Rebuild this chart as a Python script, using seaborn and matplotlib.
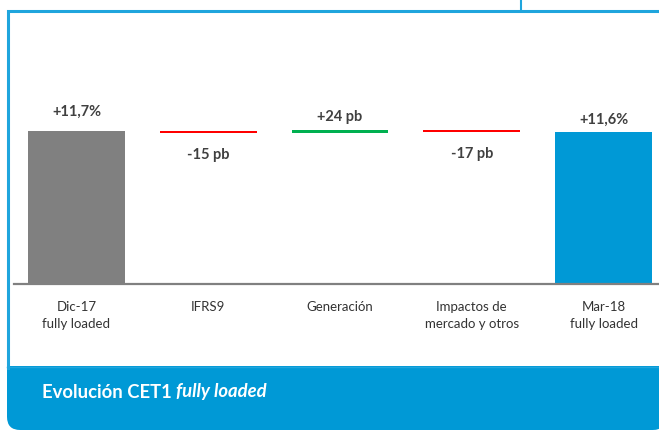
import numpy as np
import pandas as pd
import matplotlib
matplotlib.use("Agg")
import matplotlib.pyplot as plt
from matplotlib.patches import FancyBboxPatch, Rectangle
from matplotlib.lines import Line2D
import seaborn as sns

# --- datos ---
categorias = ["Dic-17\nfully loaded", "IFRS9", "Generación",
              "Impactos de\nmercado y otros", "Mar-18\nfully loaded"]
inicio = 11.70          # CET1 Dic-17 (%)
variaciones = [-0.15, 0.24, -0.17]   # en puntos porcentuales (pb / 100)
final = 11.62           # CET1 Mar-18 (%)
etiquetas = ["+11,7%", "-15 pb", "+24 pb", "-17 pb", "+11,6%"]

colores = ["#808080", "#ff0000", "#00b050", "#ff0000", "#0099d6"]
TEXTO = "#404040"
MARCO = "#1fa5dd"

plt.rcParams["font.family"] = ["Lato", "DejaVu Sans"]

W, H = 659, 432
fig = plt.figure(figsize=(W / 100, H / 100), dpi=100)
fig.patch.set_facecolor("white")

# ejes en coordenadas de píxel
x0, x1 = 14, 659
y_base, y_top = 284, 60
ax = fig.add_axes([x0 / W, (H - y_base) / H, (x1 - x0) / W, (y_base - y_top) / H])

df = pd.DataFrame({
    "categoria": categorias,
    "valor": [inicio, 0, 0, 0, final],
})
ancho = 0.736
sns.barplot(data=df, x="categoria", y="valor", hue="categoria",
            palette=colores, order=categorias, width=ancho,
            legend=False, ax=ax, saturation=1)

# tramos flotantes de la cascada
acum = inicio
niveles = []
for i, d in enumerate(variaciones, start=1):
    bottom = acum if d >= 0 else acum + d
    ax.bar(i, abs(d), bottom=bottom, width=ancho, color=colores[i], linewidth=0)
    niveles.append((acum, acum + d))
    acum += d

ax.set_xlim(-0.474, 4.421)
ax.set_ylim(0, 17.13)

# etiquetas de valor (desplazamiento vertical en puntos)
arriba = [(0, inicio, 8.5), (2, max(niveles[1]), 4.5), (4, final, 3.5)]
abajo = [(1, min(niveles[0]), -10.5), (3, min(niveles[2]), -10.5)]
for i, v, off in arriba:
    ax.annotate(etiquetas[i], (i, v), xytext=(0, off), textcoords="offset points",
                ha="center", va="bottom", fontsize=10.5, fontweight="bold", color=TEXTO)
for i, v, off in abajo:
    ax.annotate(etiquetas[i], (i, v), xytext=(0, off), textcoords="offset points",
                ha="center", va="top", fontsize=10.5, fontweight="bold", color=TEXTO)

ax.set_xlabel("")
ax.set_ylabel("")
ax.set_yticks([])
ax.tick_params(axis="x", length=0, pad=12, labelsize=9.5, labelcolor="#333333")
for lbl in ax.get_xticklabels():
    lbl.set_linespacing(1.55)
for s in ["top", "right", "left"]:
    ax.spines[s].set_visible(False)
ax.spines["bottom"].set_color("#808080")
ax.spines["bottom"].set_linewidth(1.6)
ax.set_facecolor("none")

# marco
def px(x, y):
    return x / W, (H - y) / H

fx, fy = zip(px(8, 368), px(8, 11), px(W, 11))
fig.add_artist(Line2D(fx, fy, color=MARCO, lw=2.2, solid_joinstyle="miter"))
fx, fy = zip(px(521, 0), px(521, 11))
fig.add_artist(Line2D(fx, fy, color=MARCO, lw=1.5))

# banda inferior (solo la esquina inferior izquierda redondeada)
AZUL = "#0099d6"
bx, by = px(7, 430)
banda = FancyBboxPatch((bx, by), 1.0, (430 - 366) / H,
                       boxstyle="round,pad=0,rounding_size=0.02",
                       transform=fig.transFigure, facecolor=AZUL,
                       edgecolor="none", mutation_aspect=W / H)
fig.add_artist(banda)
rx, ry = px(7, 400)
fig.add_artist(Rectangle((rx, ry), 1.0, (400 - 366) / H, transform=fig.transFigure,
                         facecolor=AZUL, edgecolor="none"))
fx, fy = zip(px(7, 366.5), px(W, 366.5))
fig.add_artist(Line2D(fx, fy, color=MARCO, lw=1.0))

tx, ty = px(42, 392)
t1 = fig.text(tx, ty, "Evolución CET1 ", color="white", fontsize=13.3,
              fontweight="bold", va="center", ha="left")
fig.canvas.draw()
bb = t1.get_window_extent()
fig.text(bb.x1 / W, ty, "fully loaded", color="white", fontsize=13.3,
         fontweight="bold", style="italic", va="center", ha="left")

fig.savefig("out.png", dpi=100)
